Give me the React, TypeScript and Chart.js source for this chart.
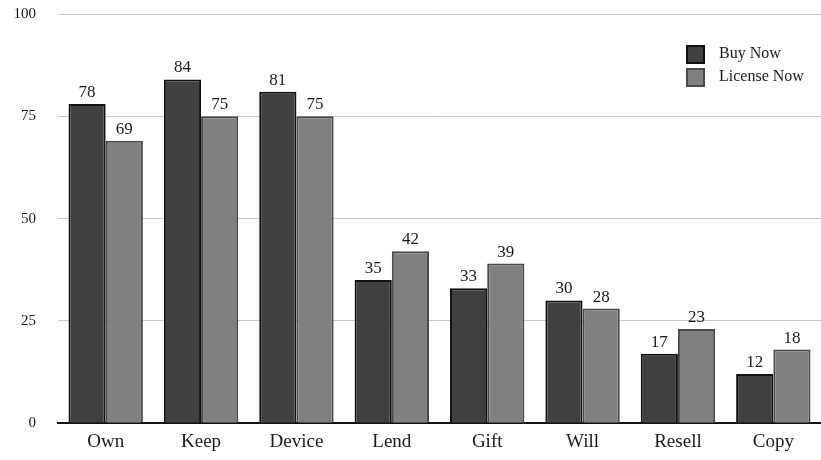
import React, { useEffect, useRef } from "react";
import { Chart, registerables } from "chart.js";

Chart.register(...registerables);

const categories = ["Own", "Keep", "Device", "Lend", "Gift", "Will", "Resell", "Copy"];
const buyNow = [78, 84, 81, 35, 33, 30, 17, 12];
const licenseNow = [69, 75, 75, 42, 39, 28, 23, 18];
const yTicks = [0, 25, 50, 75, 100];

const FONT = "'Liberation Serif', 'DejaVu Serif', serif";

const valueLabels = {
  id: "valueLabels",
  afterDatasetsDraw(chart: any) {
    const ctx = chart.ctx;
    ctx.save();
    ctx.font = `17px ${FONT}`;
    ctx.fillStyle = "#1a1a1a";
    ctx.textAlign = "center";
    ctx.textBaseline = "bottom";
    chart.data.datasets.forEach((ds: any, i: number) => {
      const meta = chart.getDatasetMeta(i);
      meta.data.forEach((el: any, j: number) => {
        ctx.fillText(String(ds.data[j]), el.x, el.y - 3);
      });
    });
    ctx.restore();
  },
};

const boxLegend = {
  id: "boxLegend",
  afterDraw(chart: any) {
    const ctx = chart.ctx;
    ctx.save();
    ctx.font = `16px ${FONT}`;
    ctx.textBaseline = "middle";
    ctx.textAlign = "left";
    const x = 687;
    const y0 = 54;
    chart.data.datasets.forEach((ds: any, i: number) => {
      const y = y0 + i * 23;
      ctx.fillStyle = ds.backgroundColor;
      ctx.fillRect(x, y - 8, 17, 17);
      ctx.strokeStyle = ds.borderColor;
      ctx.lineWidth = 2;
      ctx.strokeRect(x, y - 8, 17, 17);
      ctx.fillStyle = "#1a1a1a";
      ctx.fillText(ds.label, x + 32, y);
    });
    ctx.restore();
  },
};

export default function App() {
  const ref = useRef<HTMLCanvasElement>(null);
  useEffect(() => {
    const chart = new Chart(ref.current!, {
      type: "bar",
      data: {
        labels: categories,
        datasets: [
          {
            label: "Buy Now",
            data: buyNow,
            backgroundColor: "#404040",
            borderColor: "#111111",
            borderWidth: 2,
            borderSkipped: "bottom",
            categoryPercentage: 0.78,
            barPercentage: 1,
          },
          {
            label: "License Now",
            data: licenseNow,
            backgroundColor: "#808080",
            borderColor: "#4a4a4a",
            borderWidth: 2,
            borderSkipped: "bottom",
            categoryPercentage: 0.78,
            barPercentage: 1,
          },
        ],
      },
      options: {
        animation: false,
        responsive: false,
        layout: { padding: { top: 14, right: 0, left: 0, bottom: 0 } },
        plugins: {
          legend: { display: false },
          tooltip: { enabled: false },
        },
        scales: {
          x: {
            grid: { display: false, drawTicks: false },
            border: { display: true, color: "#111111", width: 2 },
            ticks: {
              color: "#1a1a1a",
              font: { family: FONT, size: 19 },
              padding: 7,
            },
          },
          y: {
            min: 0,
            max: 100,
            afterFit(scale: any) {
              scale.width = 58;
              scale.paddingTop = 0;
              scale.paddingBottom = 0;
            },
            afterBuildTicks(scale: any) {
              scale.ticks = yTicks.map((v) => ({ value: v }));
            },
            grid: { color: "#c8c8c8", lineWidth: 1, drawTicks: false },
            border: { display: false },
            ticks: {
              color: "#1a1a1a",
              font: { family: FONT, size: 15 },
              padding: 22,
            },
          },
        },
      },
      plugins: [valueLabels, boxLegend],
    });
    return () => chart.destroy();
  }, []);
  return (
    <div style={{ position: "fixed", left: 0, top: 0, width: 821, height: 460, background: "#fff" }}>
      <canvas ref={ref} width={821} height={460} />
    </div>
  );
}
